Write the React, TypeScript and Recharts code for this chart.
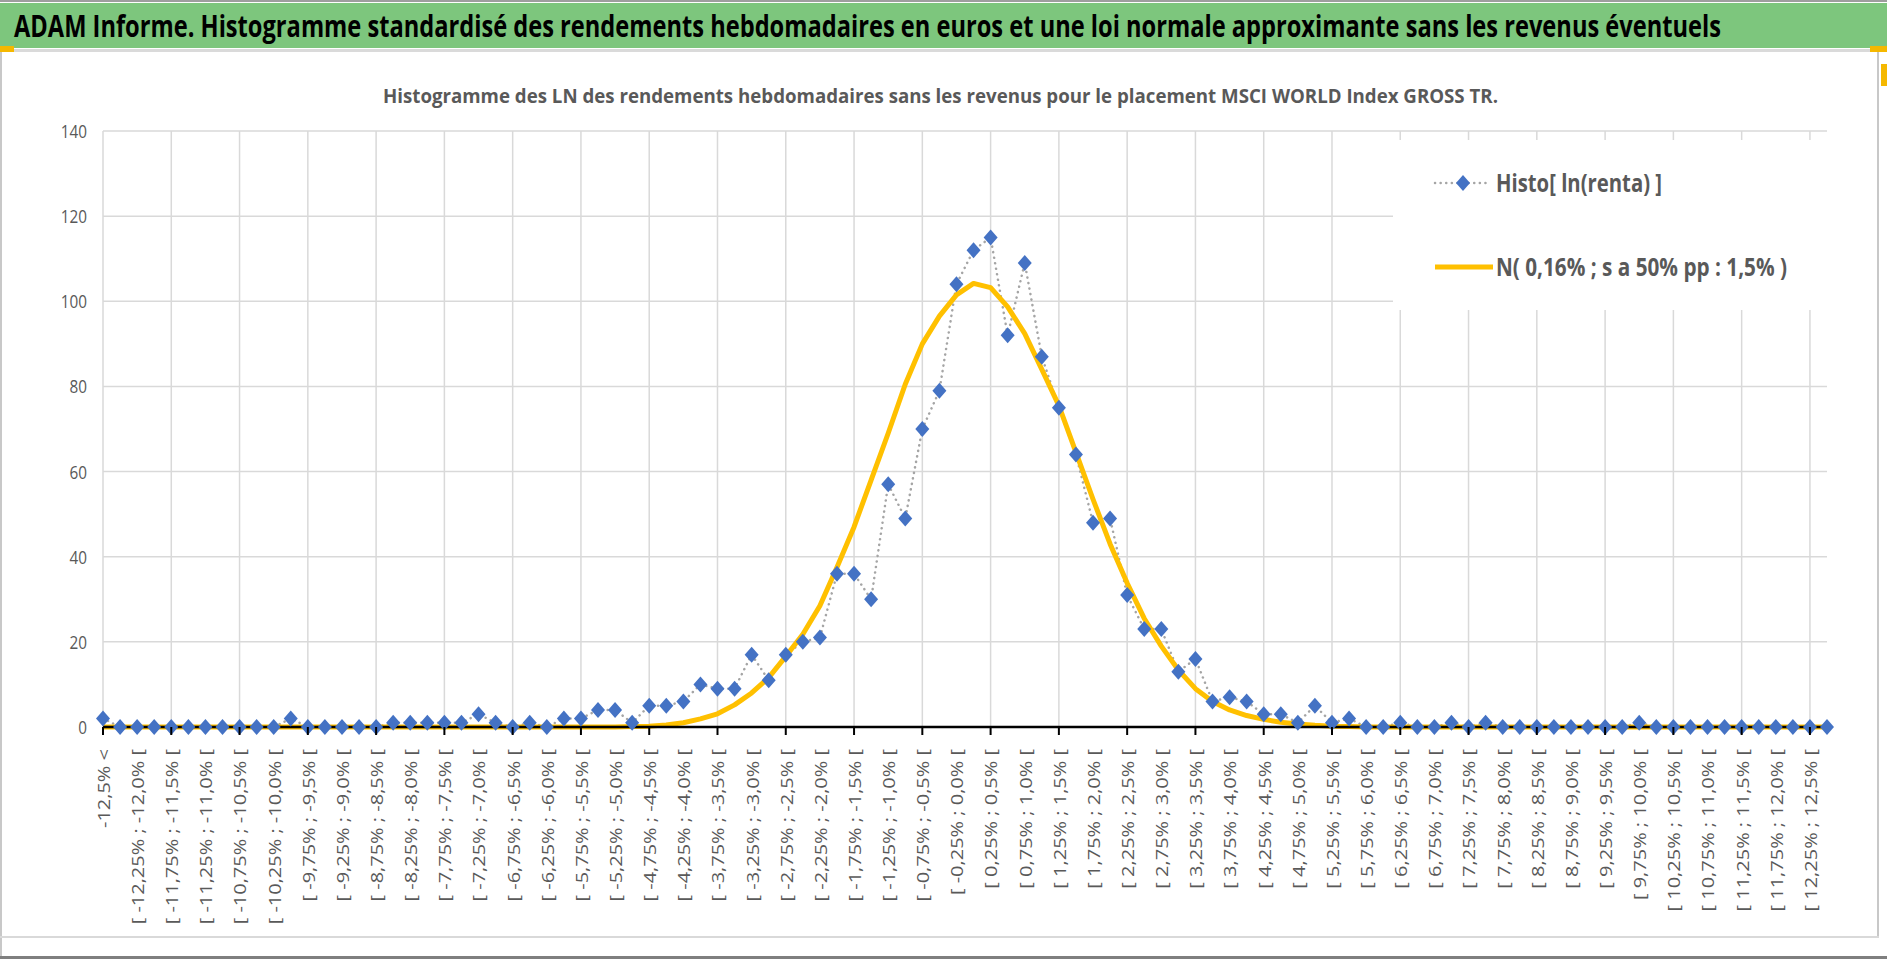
import React from 'react';
import { LineChart, Line, XAxis, YAxis, CartesianGrid, Legend } from 'recharts';

// Interval boundaries (in %) of the weekly log-return histogram
const BOUNDS: string[] = [
  '-12,5', '-12,25',
  '-12,0', '-11,75', '-11,5', '-11,25',
  '-11,0', '-10,75', '-10,5', '-10,25',
  '-10,0', '-9,75', '-9,5', '-9,25',
  '-9,0', '-8,75', '-8,5', '-8,25',
  '-8,0', '-7,75', '-7,5', '-7,25',
  '-7,0', '-6,75', '-6,5', '-6,25',
  '-6,0', '-5,75', '-5,5', '-5,25',
  '-5,0', '-4,75', '-4,5', '-4,25',
  '-4,0', '-3,75', '-3,5', '-3,25',
  '-3,0', '-2,75', '-2,5', '-2,25',
  '-2,0', '-1,75', '-1,5', '-1,25',
  '-1,0', '-0,75', '-0,5', '-0,25',
  '0,0', '0,25', '0,5', '0,75',
  '1,0', '1,25', '1,5', '1,75',
  '2,0', '2,25', '2,5', '2,75',
  '3,0', '3,25', '3,5', '3,75',
  '4,0', '4,25', '4,5', '4,75',
  '5,0', '5,25', '5,5', '5,75',
  '6,0', '6,25', '6,5', '6,75',
  '7,0', '7,25', '7,5', '7,75',
  '8,0', '8,25', '8,5', '8,75',
  '9,0', '9,25', '9,5', '9,75',
  '10,0', '10,25', '10,5', '10,75',
  '11,0', '11,25', '11,5', '11,75',
  '12,0', '12,25', '12,5',
];
const FIRST_LABEL = '-12,5% <';
const LAST_LABEL = '12,5% >=';

const CATEGORIES: string[] = [
  FIRST_LABEL,
  ...BOUNDS.slice(0, -1).map((b, k) => `[ ${b}% ; ${BOUNDS[k + 1]}% [`),
  LAST_LABEL,
];

// Histo[ ln(renta) ]
const HISTO: number[] = [
  2, 0, 0, 0, 0, 0, 0, 0, 0, 0,
  0, 2, 0, 0, 0, 0, 0, 1, 1, 1,
  1, 1, 3, 1, 0, 1, 0, 2, 2, 4,
  4, 1, 5, 5, 6, 10, 9, 9, 17, 11,
  17, 20, 21, 36, 36, 30, 57, 49, 70, 79,
  104, 112, 115, 92, 109, 87, 75, 64, 48, 49,
  31, 23, 23, 13, 16, 6, 7, 6, 3, 3,
  1, 5, 1, 2, 0, 0, 1, 0, 0, 1,
  0, 1, 0, 0, 0, 0, 0, 0, 0, 0,
  1, 0, 0, 0, 0, 0, 0, 0, 0, 0,
  0, 0,
];

// N( 0,16% ; s a 50% pp : 1,5% )
const NORMAL: number[] = [
  0, 0, 0, 0, 0, 0, 0, 0, 0, 0,
  0, 0, 0, 0, 0, 0, 0, 0, 0, 0,
  0, 0, 0, 0, 0, 0, 0, 0, 0, 0,
  0, 0.1, 0.2, 0.5, 1.0, 1.9, 3.1, 5.2, 8.0, 11.6,
  16.6, 21.8, 28.5, 37.5, 47, 58, 69, 80.5, 90, 96.5,
  101.5, 104.2, 103.2, 98.7, 92.4, 84, 75.5, 64.5, 53.5, 43,
  33.8, 25.5, 19, 13.4, 9, 6, 4, 2.7, 1.8, 1.1,
  0.7, 0.4, 0.2, 0.1, 0, 0, 0, 0, 0, 0,
  0, 0, 0, 0, 0, 0, 0, 0, 0, 0,
  0, 0, 0, 0, 0, 0, 0, 0, 0, 0,
  0, 0,
];

const Y_TICKS: number[] = [0, 20, 40, 60, 80, 100, 120, 140];

const TITLE =
  'ADAM Informe. Histogramme standardisé des rendements hebdomadaires en euros et une loi normale approximante sans les revenus éventuels';
const SUBTITLE =
  'Histogramme des LN des rendements hebdomadaires sans les revenus pour le placement MSCI WORLD Index GROSS TR.';
const SERIES_HISTO = 'Histo[ ln(renta) ]';
const SERIES_NORMAL = 'N( 0,16% ; s a 50% pp : 1,5% )';

const data = CATEGORIES.map((cat, i) => ({ cat, histo: HISTO[i], normal: NORMAL[i] }));

const FONT = "'Open Sans', 'Noto Sans', sans-serif";
const TEXT_GREY = '#595959';

const XTick = (props: any) => {
  const { x, y, payload } = props;
  const i: number = props.index ?? payload?.index ?? 0;
  return (
    <g>
      {i % 4 === 0 && <line x1={x} y1={y - 8} x2={x} y2={y} stroke="#000" strokeWidth={2} />}
      {i % 2 === 0 && (
        <text
          transform={`translate(${x},${y + 14}) rotate(-90) scale(1,0.85)`}
          textAnchor="end"
          dominantBaseline="central"
          fontFamily={FONT}
          fontSize={20}
          fill={TEXT_GREY}
        >
          {payload.value}
        </text>
      )}
    </g>
  );
};

const YTick = (props: any) => {
  const { x, y, payload } = props;
  return (
    <text
      transform={`translate(${x},${y}) scale(0.85,1)`}
      textAnchor="end"
      dominantBaseline="central"
      fontFamily={FONT}
      fontSize={18}
      fill={TEXT_GREY}
    >
      {payload.value}
    </text>
  );
};

const Diamond = (props: any) => {
  const { cx, cy, index } = props;
  if (cx == null || cy == null) return <g key={index} />;
  return (
    <polygon
      key={index}
      points={`${cx},${cy - 8} ${cx + 7},${cy} ${cx},${cy + 8} ${cx - 7},${cy}`}
      fill="#4472C4"
    />
  );
};

const LegendBox = () => (
  <svg width={434} height={170} style={{ display: 'block', background: '#fff' }}>
    <line x1={42} y1={43} x2={95} y2={43} stroke="#A5A5A5" strokeWidth={2.5} strokeDasharray="0.1 5.5" strokeLinecap="round" />
    <polygon points="70,35 77,43 70,51 63,43" fill="#4472C4" />
    <text transform="translate(103,52) scale(1,1.35)" fontFamily={FONT} fontWeight={700} fontSize={19} fill={TEXT_GREY} textLength={166} lengthAdjust="spacingAndGlyphs">
      {SERIES_HISTO}
    </text>
    <line x1={42} y1={127} x2={100} y2={127} stroke="#FFC000" strokeWidth={5} />
    <text transform="translate(103,136) scale(1,1.35)" fontFamily={FONT} fontWeight={700} fontSize={19} fill={TEXT_GREY} textLength={291} lengthAdjust="spacingAndGlyphs">
      {SERIES_NORMAL}
    </text>
  </svg>
);

const mapScale = (s: any, v: string): number | undefined => {
  try {
    if (typeof s === 'function') return s(v);
    if (s && typeof s.map === 'function') return s.map(v);
    if (s && typeof s.apply === 'function') return s.apply(v);
  } catch (e) {
    return undefined;
  }
  return undefined;
};

const gridX = (p: any) => {
  const ax = p?.xAxis;
  const picked = CATEGORIES.filter((_, i) => i % 4 === 0);
  const viaScale = picked.map((c) => mapScale(ax?.scale, c));
  if (viaScale.every((v) => typeof v === 'number' && isFinite(v as number))) return viaScale as number[];
  const off = p?.offset;
  if (off && typeof off.left === 'number') {
    const step = off.width / (CATEGORIES.length - 1);
    return CATEGORIES.map((_, i) => i).filter((i) => i % 4 === 0).map((i) => off.left + i * step);
  }
  return [];
};

export default function App() {
  return (
    <div style={{ position: 'relative', width: 1887, height: 959, background: '#fff', overflow: 'hidden' }}>
      <style>{`body{margin:0;}`}</style>
      <svg width={1887} height={959} style={{ position: 'absolute', left: 0, top: 0 }}>
        <rect x={0} y={0} width={1887} height={2} fill="#9E9E9E" />
        <rect x={0} y={3} width={1887} height={45} fill="#7DC67D" />
        <rect x={0} y={49} width={1887} height={3} fill="#DADADA" />
        <rect x={0} y={52} width={2} height={907} fill="#C8C8C8" />
        <rect x={1877} y={52} width={2} height={886} fill="#C8C8C8" />
        <rect x={0} y={936} width={1879} height={2} fill="#D9D9D9" />
        <rect x={0} y={956} width={1887} height={3} fill="#7F7F7F" />
        <rect x={0} y={46} width={14} height={6} fill="#F5B800" />
        <rect x={1870} y={46} width={17} height={6} fill="#F5B800" />
        <rect x={1881} y={64} width={6} height={22} fill="#F5B800" />
        <text transform="translate(14,37) scale(1,1.32)" fontFamily={FONT} fontWeight={700} fontSize={23} fill="#000" textLength={1707} lengthAdjust="spacingAndGlyphs">
          {TITLE}
        </text>
        <text x={383} y={103} fontFamily={FONT} fontWeight={700} fontSize={19} fill={TEXT_GREY} textLength={1115} lengthAdjust="spacingAndGlyphs">
          {SUBTITLE}
        </text>
      </svg>
      <div style={{ position: 'absolute', left: 0, top: 0 }}>
        <LineChart width={1887} height={959} data={data} margin={{ top: 131, right: 60, left: 43, bottom: 32 }}>
          <CartesianGrid stroke="#D9D9D9" strokeWidth={1.5} verticalCoordinatesGenerator={gridX} />
          <XAxis
            dataKey="cat"
            interval={0}
            height={200}
            tickSize={8}
            tickMargin={0}
            tickLine={false}
            axisLine={{ stroke: '#000', strokeWidth: 2.5 }}
            tick={<XTick />}
          />
          <YAxis
            domain={[0, 140]}
            ticks={Y_TICKS}
            interval={0}
            width={60}
            tickSize={6}
            tickMargin={10}
            axisLine={false}
            tickLine={false}
            tick={<YTick />}
          />
          <Legend
            layout="vertical"
            align="center"
            verticalAlign="middle"
            content={<LegendBox />}
            wrapperStyle={{ left: 1393, top: 140, width: 434, height: 170 }}
          />
          <Line
            dataKey="histo"
            name={SERIES_HISTO}
            type="linear"
            stroke="#A5A5A5"
            strokeWidth={2.5}
            strokeDasharray="0.1 5.5"
            strokeLinecap="round"
            dot={Diamond}
            activeDot={false}
            isAnimationActive={false}
          />
          <Line
            dataKey="normal"
            name={SERIES_NORMAL}
            type="linear"
            stroke="#FFC000"
            strokeWidth={5}
            strokeLinejoin="round"
            dot={false}
            activeDot={false}
            isAnimationActive={false}
          />
        </LineChart>
      </div>
    </div>
  );
}
